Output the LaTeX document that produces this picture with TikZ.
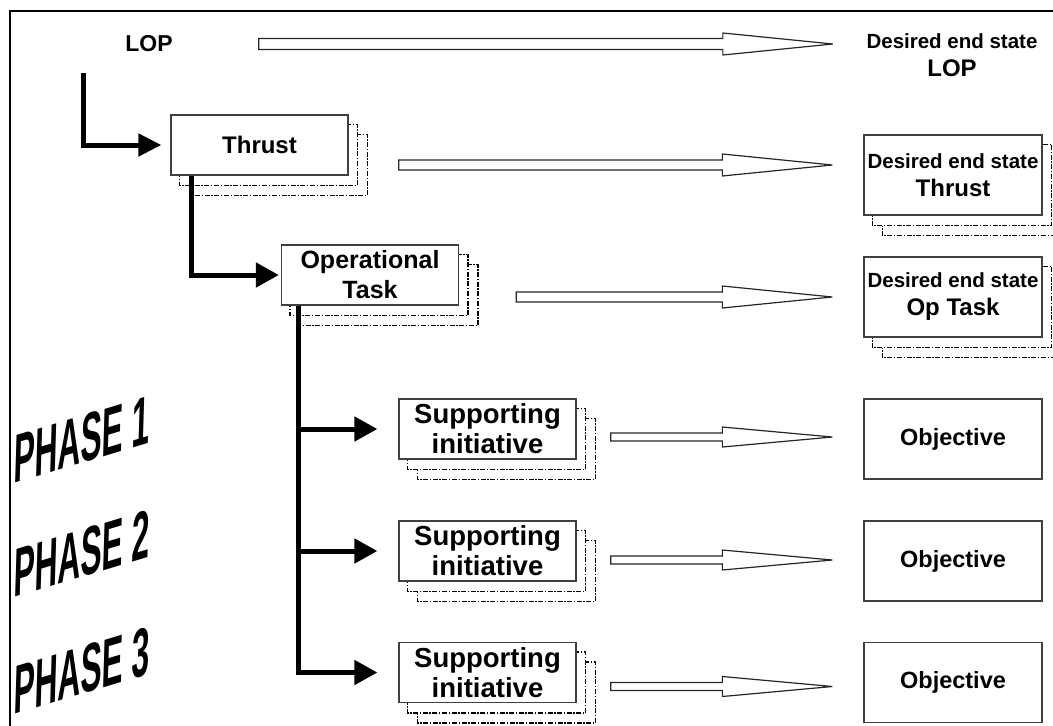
\documentclass[tikz,border=0pt]{standalone}
\usepackage{fontspec}
\setmainfont{Liberation Sans}
\usetikzlibrary{arrows.meta,calc,backgrounds}

\newcommand\fsz[2]{\fontsize{#1}{#2}\selectfont}

\tikzset{
  box/.style={draw=black!75, line width=1.3pt, fill=white, align=center,
              inner sep=0pt, font=\bfseries},
  mainbox/.style={box, minimum width=177pt, minimum height=60pt},
  endbox/.style={box, minimum width=178pt, minimum height=80pt},
  shadowline/.style={draw=black, fill=white, line width=1.6pt,
              dash pattern=on 5pt off 1.6pt on 1.4pt off 1.6pt},
  link/.style={line width=5pt, -{Triangle[length=23pt,width=24pt]}},
  hollow/.style={draw=black!85, fill=white, line width=1.2pt, line join=miter},
  phase/.style={font=\bfseries\fsz{69}{69}, inner sep=0pt, anchor=base west,
              cm={0.46,0.14,0.03,1,(0,0)}},
}

% two dash-dotted copies stacked behind a box
\newcommand\stackshadow[1]{%
  \begin{scope}[on background layer]
    \draw[shadowline] ($(#1.north west)+(19,20)$) rectangle ($(#1.south east)+(19,20)$);
    \draw[shadowline] ($(#1.north west)+(9,10)$) rectangle ($(#1.south east)+(9,10)$);
  \end{scope}}

% open block arrow: #1 source anchor, #2 offset of the tail, #3 target anchor,
% #4 gap before the target, #5 half shaft width, #6 half head width
\newcommand\hollowarrow[6]{%
  \draw[hollow] let \p1=($(#1)+(#2)$), \p2=($(#3)+(-#4,0)$) in
    (\x1,\y1+#5) -- (\x2-110pt,\y1+#5) -- (\x2-110pt,\y1+#6) -- (\x2,\y1)
    -- (\x2-110pt,\y1-#6) -- (\x2-110pt,\y1-#5) -- (\x1,\y1-#5) -- cycle;}

\begin{document}
\begin{tikzpicture}[x=1pt, y=-1pt]
  \useasboundingbox (0,0) rectangle (1053,726);
  \clip (0,0) rectangle (1053,726);

  % outer frame
  \draw[line width=2.5pt] (10,740) -- (10,11) -- (1070,11);

  % left-hand hierarchy
  \node[font=\bfseries\fsz{23}{28}, inner sep=0pt] (LOP) at (149,44) {LOP};
  \node[mainbox, font=\bfseries\fsz{24}{30}] (Thrust) at (259.5,145) {Thrust};
  \node[mainbox, font=\bfseries\fsz{25}{30}] (OpTask) at (370,275) {Operational\\Task};
  \node[mainbox, font=\bfseries\fsz{27.5}{30}] (SI1) at (487.5,429) {Supporting\\initiative};
  \node[mainbox, font=\bfseries\fsz{27.5}{30}] (SI2) at (487.5,551) {Supporting\\initiative};
  \node[mainbox, font=\bfseries\fsz{27.5}{30}] (SI3) at (487.5,672.5) {Supporting\\initiative};
  \stackshadow{Thrust}
  \stackshadow{OpTask}
  \stackshadow{SI1}
  \stackshadow{SI2}
  \stackshadow{SI3}

  % right-hand end states
  \node[align=center, inner sep=0pt, font=\bfseries\fsz{20.5}{28}] (dLOP) at (952,55)
       {Desired end state\\{\fsz{24}{28}LOP}};
  \node[endbox, font=\bfseries\fsz{20.5}{28}] (dThrust) at (953,175)
       {Desired end state\\{\fsz{24}{28}Thrust}};
  \node[endbox, font=\bfseries\fsz{20.5}{28}] (dOp) at (953,297)
       {Desired end state\\{\fsz{24}{28}Op Task}};
  \stackshadow{dThrust}
  \stackshadow{dOp}
  \node[endbox, font=\bfseries\fsz{23.5}{28}] (obj1) at (953,439) {Objective};
  \node[endbox, font=\bfseries\fsz{23.5}{28}] (obj2) at (953,561) {Objective};
  \node[endbox, font=\bfseries\fsz{23.5}{28}] (obj3) at (953,682.5) {Objective};

  % phase labels
  \node[phase] (ph1) at (13,484) {PHASE 1};
  \node[phase] (ph2) at (13,598) {PHASE 2};
  \node[phase] (ph3) at (13,715) {PHASE 3};

  % thick connectors
  \coordinate (lopfoot) at (83,73);
  \draw[line width=5pt, -{Triangle[length=23pt,width=22pt]}, shorten >=9pt]
    (lopfoot) |- (Thrust.west);
  \draw[link, shorten >=2pt] ($(Thrust.south west)+(21,0)$) |- (OpTask.west);
  \draw[link, shorten >=21pt] ($(OpTask.south west)+(18,0)$) |- (SI1.west);
  \draw[link, shorten >=21pt] ($(OpTask.south west)+(18,0)$) |- (SI2.west);
  \draw[link, shorten >=21pt] ($(OpTask.south west)+(18,0)$) |- (SI3.west);

  % open block arrows towards the end states
  \hollowarrow{LOP.east}{86,0}{dLOP.west}{33.5}{5.5pt}{11pt}
  \hollowarrow{Thrust.east}{50,20}{dThrust.west}{31}{5pt}{11pt}
  \hollowarrow{OpTask.east}{57,22}{dOp.west}{31}{5pt}{11pt}
  \hollowarrow{SI1.east}{34,8}{obj1.west}{31}{4pt}{10pt}
  \hollowarrow{SI2.east}{34,9}{obj2.west}{31}{4pt}{10pt}
  \hollowarrow{SI3.east}{34,14}{obj3.west}{31}{4pt}{10pt}
\end{tikzpicture}
\end{document}
